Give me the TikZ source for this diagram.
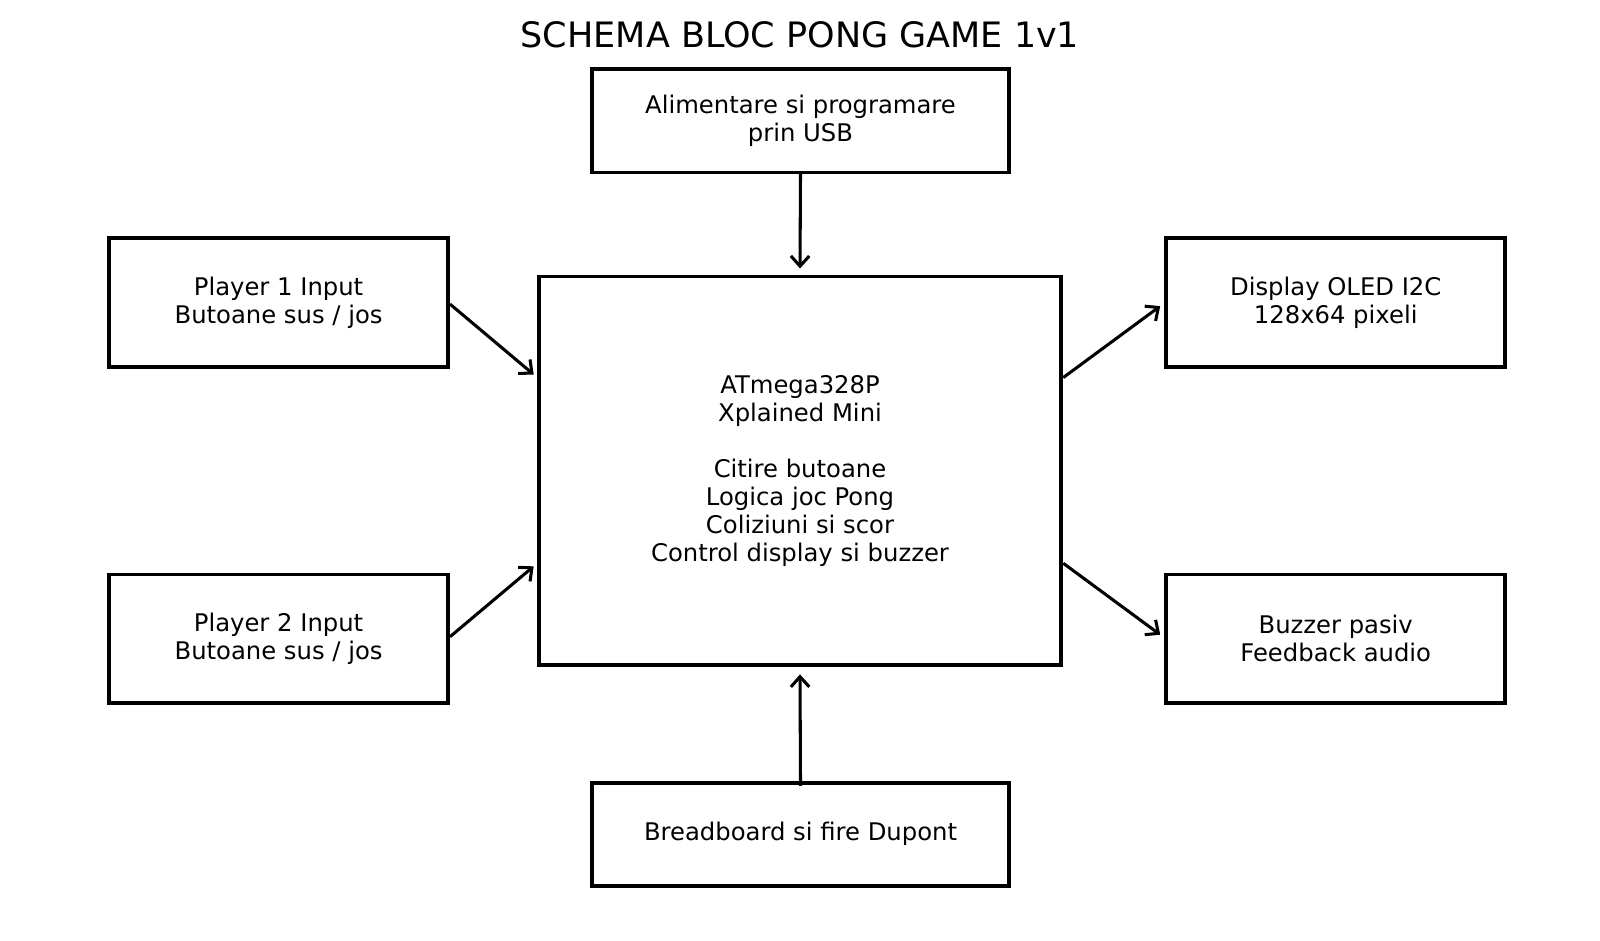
\documentclass[tikz,border=0pt]{standalone}
\usepackage{fontspec}
\setmainfont{DejaVu Sans}
\usetikzlibrary{arrows.meta}
\begin{document}
\begin{tikzpicture}[x=1pt,y=-1pt,
  box/.style={draw,line width=3.8pt,inner sep=0pt,align=center,font=\fontsize{23.8}{27.5}\selectfont},
  arr/.style={line width=3pt,-{Straight Barb[length=10pt,width=18pt,line width=3pt]}}]
\useasboundingbox (0,0) rectangle (1568,922);
\node[font=\fontsize{34.3}{40}\selectfont] (title) at (784,34) {SCHEMA BLOC PONG GAME 1v1};
\node[box,minimum width=409pt,minimum height=101pt] (usb) at (784.5,118.5) {Alimentare si programare\\prin USB};
\node[box,minimum width=512pt,minimum height=381pt] (mcu) at (784,461.5) {ATmega328P\\Xplained Mini\\[27.5pt]Citire butoane\\Logica joc Pong\\Coliziuni si scor\\Control display si buzzer};
\node[box,minimum width=332pt,minimum height=127pt] (p1) at (273,296.5) {Player 1 Input\\Butoane sus / jos};
\node[box,minimum width=332pt,minimum height=126pt] (p2) at (273,626) {Player 2 Input\\Butoane sus / jos};
\node[box,minimum width=332pt,minimum height=127pt] (disp) at (1309,296.5) {Display OLED I2C\\128x64 pixeli};
\node[box,minimum width=332pt,minimum height=126pt] (buz) at (1309,626) {Buzzer pasiv\\Feedback audio};
\node[box,minimum width=409pt,minimum height=101pt] (bb) at (784.5,817.5) {Breadboard si fire Dupont};
\coordinate (a1) at (523,367);
\coordinate (a2) at (523,555);
\coordinate (a3) at (1137,300);
\coordinate (a4) at (1137,622);
\draw[arr] ([yshift=2pt]usb.south) -- ([yshift=6pt]mcu.north);
\draw[arr] ([yshift=-5pt]bb.north) -- ([yshift=-7pt]mcu.south);
\draw[arr] (441,298) -- (a1);
\draw[arr] (441,624) -- (a2);
\draw[arr] (1042,370) -- (a3);
\draw[arr] (1042,552) -- (a4);
\end{tikzpicture}
\end{document}
